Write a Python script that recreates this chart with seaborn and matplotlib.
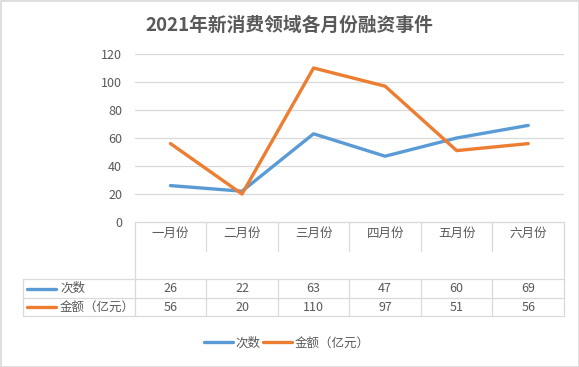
import matplotlib
matplotlib.use("Agg")
import matplotlib.pyplot as plt
import matplotlib.transforms as mtransforms
import pandas as pd
import seaborn as sns

months = ["一月份", "二月份", "三月份", "四月份", "五月份", "六月份"]
counts = [26, 22, 63, 47, 60, 69]
amounts = [56, 20, 110, 97, 51, 56]
series_names = ["次数", "金额（亿元）"]
title = "2021年新消费领域各月份融资事件"

blue = "#5B9BD5"
orange = "#ED7D31"
txt = "#595959"
grid = "#D9D9D9"

sns.set_theme(style="white")
plt.rcParams["font.family"] = ["Noto Sans CJK SC", "DejaVu Sans"]

df = pd.DataFrame({
    "month": list(range(len(months))) * 2,
    "value": counts + amounts,
    "series": [series_names[0]] * len(months) + [series_names[1]] * len(months),
})

W, H = 579, 367
fig = plt.figure(figsize=(W / 100, H / 100), dpi=100)
left, right, top, bottom = 134.7, 564, 54, 222
ax = fig.add_axes([left / W, 1 - bottom / H, (right - left) / W, (bottom - top) / H])

sns.lineplot(data=df, x="month", y="value", hue="series",
             palette=[blue, orange], linewidth=2.4, ax=ax, legend=False)

ax.set_xlim(-0.5, len(months) - 0.5)
ax.set_ylim(0, 120)
ax.set_yticks(range(0, 121, 20))
ax.set_xticks([])
ax.set_xlabel("")
ax.set_ylabel("")
ax.tick_params(axis="y", length=0, pad=9, labelsize=9, labelcolor=txt)
for s in ax.spines.values():
    s.set_visible(False)
for v in range(20, 121, 20):
    ax.axhline(v, color=grid, lw=0.9, zorder=0)

# data table under the plot
tr = mtransforms.blended_transform_factory(ax.transData, ax.transAxes)
px = 1 / (bottom - top)  # one pixel in axes fraction
y_cat = -57 * px
y_r1 = -76 * px
y_r2 = -94 * px
x_lab = -0.5 - (left - 23) / ((right - left) / len(months))
lk = dict(color=grid, lw=0.9, transform=tr, clip_on=False)

ax.plot([-0.5, len(months) - 0.5], [0, 0], **lk)
ax.plot([x_lab, len(months) - 0.5], [y_cat, y_cat], **lk)
ax.plot([x_lab, len(months) - 0.5], [y_r1, y_r1], **lk)
ax.plot([x_lab, len(months) - 0.5], [y_r2, y_r2], **lk)
ax.plot([-0.5, -0.5], [0, y_r2], **lk)
ax.plot([len(months) - 0.5] * 2, [0, y_r2], **lk)
ax.plot([x_lab, x_lab], [y_cat, y_r2], **lk)
for i in range(1, len(months)):
    ax.plot([i - 0.5, i - 0.5], [0, -29 * px], **lk)
    ax.plot([i - 0.5, i - 0.5], [y_cat, y_r2], **lk)

for i, m in enumerate(months):
    ax.text(i, -11 * px, m, ha="center", va="center", fontsize=9, color=txt, transform=tr)
    ax.text(i, (y_cat + y_r1) / 2, str(counts[i]), ha="center", va="center",
            fontsize=9, color=txt, transform=tr)
    ax.text(i, (y_r1 + y_r2) / 2, str(amounts[i]), ha="center", va="center",
            fontsize=9, color=txt, transform=tr)

row_y = [(y_cat + y_r1) / 2, (y_r1 + y_r2) / 2]
seg = 29 / ((right - left) / len(months))
gap = 4 / ((right - left) / len(months))
for name, col, yy in zip(series_names, [blue, orange], row_y):
    ax.plot([x_lab + gap, x_lab + gap + seg], [yy, yy], color=col, lw=2.4,
            transform=tr, clip_on=False, solid_capstyle="round")
    ax.text(x_lab + 2 * gap + seg, yy, name, ha="left", va="center",
            fontsize=9, color=txt, transform=tr)

# legend at bottom
handles = [plt.Line2D([], [], color=c, lw=2.4) for c in [blue, orange]]
fig.legend(handles, series_names, loc="center", bbox_to_anchor=(0.495, 1 - 343 / H),
           ncol=2, frameon=False, fontsize=9, labelcolor=txt, handlelength=2.3,
           handletextpad=0.2, columnspacing=0.2)

fig.text(0.5, 1 - 25 / H, title, ha="center", va="center", fontsize=13.5,
         fontweight="bold", color=txt)

fig.add_artist(plt.Rectangle((0.5 / W, 0.5 / H), 1 - 1 / W, 1 - 1 / H,
                             transform=fig.transFigure, fill=False,
                             edgecolor=grid, lw=1.2))

fig.savefig("out.png", dpi=100)
